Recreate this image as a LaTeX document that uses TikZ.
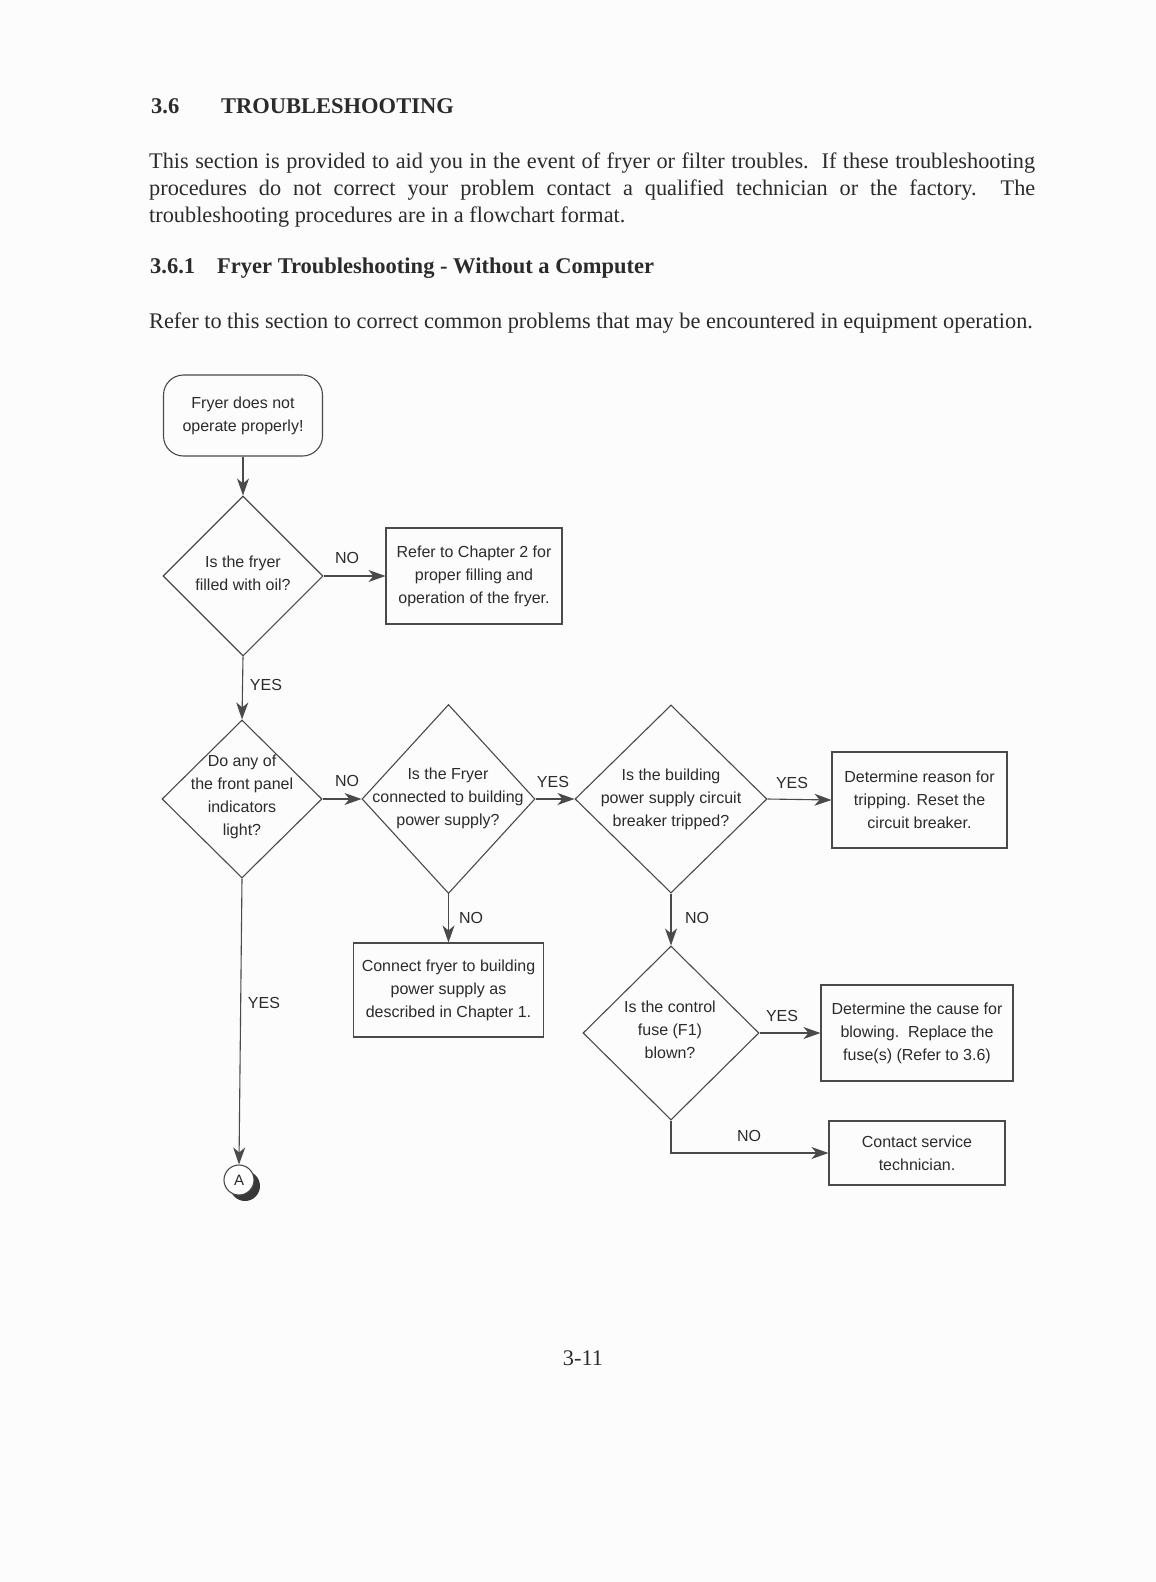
\documentclass[tikz,border=0pt]{standalone}
\usepackage{fontspec}
\setmainfont{Liberation Serif}
\newfontfamily\fcfont{Liberation Sans}
\usetikzlibrary{shapes.geometric,arrows.meta,shadows}
\definecolor{ink}{HTML}{2B2B2B}
\definecolor{lin}{HTML}{4A4A4A}
\definecolor{paper}{HTML}{FCFCFC}
\begin{document}
\begin{tikzpicture}[x=1pt,y=-1pt,
  fc/.style={font=\fcfont\fontsize{16}{23}\selectfont, text=ink, align=center},
  boxn/.style={fc, draw=lin, line width=1.1pt, inner sep=0pt},
  dia/.style={diamond, draw=lin, line width=1.1pt, inner sep=0pt},
  lab/.style={font=\fcfont\fontsize{16}{19}\selectfont, text=ink, inner sep=0pt},
  arr/.style={draw=lin, line width=1.1pt, -{Stealth[length=17pt,width=12pt,inset=5pt]}},
  body/.style={font=\fontsize{22.3}{27}\selectfont, text=ink, anchor=base west, inner sep=0pt},
  head/.style={font=\bfseries\fontsize{22.5}{27}\selectfont, text=ink, anchor=base west, inner sep=0pt}]
\fill[paper] (0,0) rectangle (1156,1582);
\useasboundingbox (0,0) rectangle (1156,1582);

% page text
\node[head] (h1n) at (151,113) {3.6};
\node[head] (h1t) at (221,113) {TROUBLESHOOTING};
\node[body] (p1) at (149,168) {\makebox[886pt][s]{This section is provided to aid you in the event of fryer or filter troubles.\ \ If these troubleshooting}};
\node[body] (p2) at (149,195) {\makebox[886pt][s]{procedures do not correct your problem contact a qualified technician or the factory.\ \ The}};
\node[body] (p3) at (149,222) {troubleshooting procedures are in a flowchart format.};
\node[head] (h2n) at (150,273) {3.6.1};
\node[head] (h2t) at (217,273) {Fryer Troubleshooting - Without a Computer};
\node[body] (p4) at (149,328) {Refer to this section to correct common problems that may be encountered in equipment operation.};
\node[body, anchor=base] (pg) at (583,1365) {3-11};

% flowchart nodes
\node[boxn, rounded corners=20pt, minimum width=159pt, minimum height=81pt] (start) at (243,415.5) {Fryer does not\\operate properly!};
\node[dia, minimum width=160pt, minimum height=160pt] (d1) at (243,576) {};
\node[fc] (d1t) at (243,573.5) {Is the fryer\\filled with oil?};
\node[boxn, minimum width=176pt, minimum height=96pt] (b1) at (474,576) {Refer to Chapter 2 for\\proper filling and\\operation of the fryer.};

\node[dia, minimum width=160pt, minimum height=158pt] (d2) at (242,799) {};
\node[fc] (d2t) at (242,797) {Do any of\\the front panel\\indicators\\light?};
\node[dia, minimum width=173pt, minimum height=189pt] (d3) at (448.5,799) {};
\node[fc] (d3t) at (448,798) {Is the Fryer\\connected to building\\power supply?};
\node[dia, minimum width=192pt, minimum height=188pt] (d4) at (671,799) {};
\node[fc] (d4t) at (671,799) {Is the building\\power supply circuit\\breaker tripped?};
\node[boxn, minimum width=175pt, minimum height=96pt] (b2) at (919.5,800) {Determine reason for\\tripping. Reset the\\circuit breaker.};

\node[boxn, minimum width=190pt, minimum height=94pt] (b3) at (448.5,990) {Connect fryer to building\\power supply as\\described in Chapter 1.};
\node[dia, minimum width=176pt, minimum height=174pt] (d5) at (671,1033) {};
\node[fc] (d5t) at (670,1030) {Is the control\\fuse (F1)\\blown?};
\node[boxn, minimum width=192pt, minimum height=96pt] (b4) at (917,1033) {Determine the cause for\\blowing.\ \ Replace the\\fuse(s) (Refer to 3.6)};
\node[boxn, minimum width=176pt, minimum height=64pt] (b5) at (917,1153) {Contact service\\technician.};

\node[circle, draw=lin, line width=1.1pt, fill=white, minimum size=30pt, inner sep=0pt,
      font=\fcfont\fontsize{15}{17}\selectfont, text=ink,
      drop shadow={shadow xshift=6pt, shadow yshift=-6pt, fill=black!78, opacity=1}] (A) at (239,1180) {A};

% connectors
\draw[arr] (start.south) -- (d1.north);
\draw[arr] (d1.east) -- (b1.west);
\draw[arr] (d1.south) -- (d2.north);
\draw[arr] (d2.east) -- (d3.west);
\draw[arr] (d3.east) -- (d4.west);
\draw[arr] (d4.east) -- (b2.west);
\draw[arr] (d3.south) -- (b3.north);
\draw[arr] (d4.south) -- (d5.north);
\draw[arr] (d5.east) -- (b4.west);
\draw[arr] (d5.south) |- (b5.west);
\draw[arr] (d2.south) -- (A.north);

% connector labels
\node[lab] (l1) at (347,558) {NO};
\node[lab] (l2) at (266,685) {YES};
\node[lab] (l3) at (347,781) {NO};
\node[lab] (l4) at (553,782) {YES};
\node[lab] (l5) at (792,783) {YES};
\node[lab] (l6) at (471,918) {NO};
\node[lab] (l7) at (697,918) {NO};
\node[lab] (l8) at (782,1016) {YES};
\node[lab] (l9) at (749,1136) {NO};
\node[lab] (l10) at (264,1003) {YES};
\end{tikzpicture}
\end{document}
